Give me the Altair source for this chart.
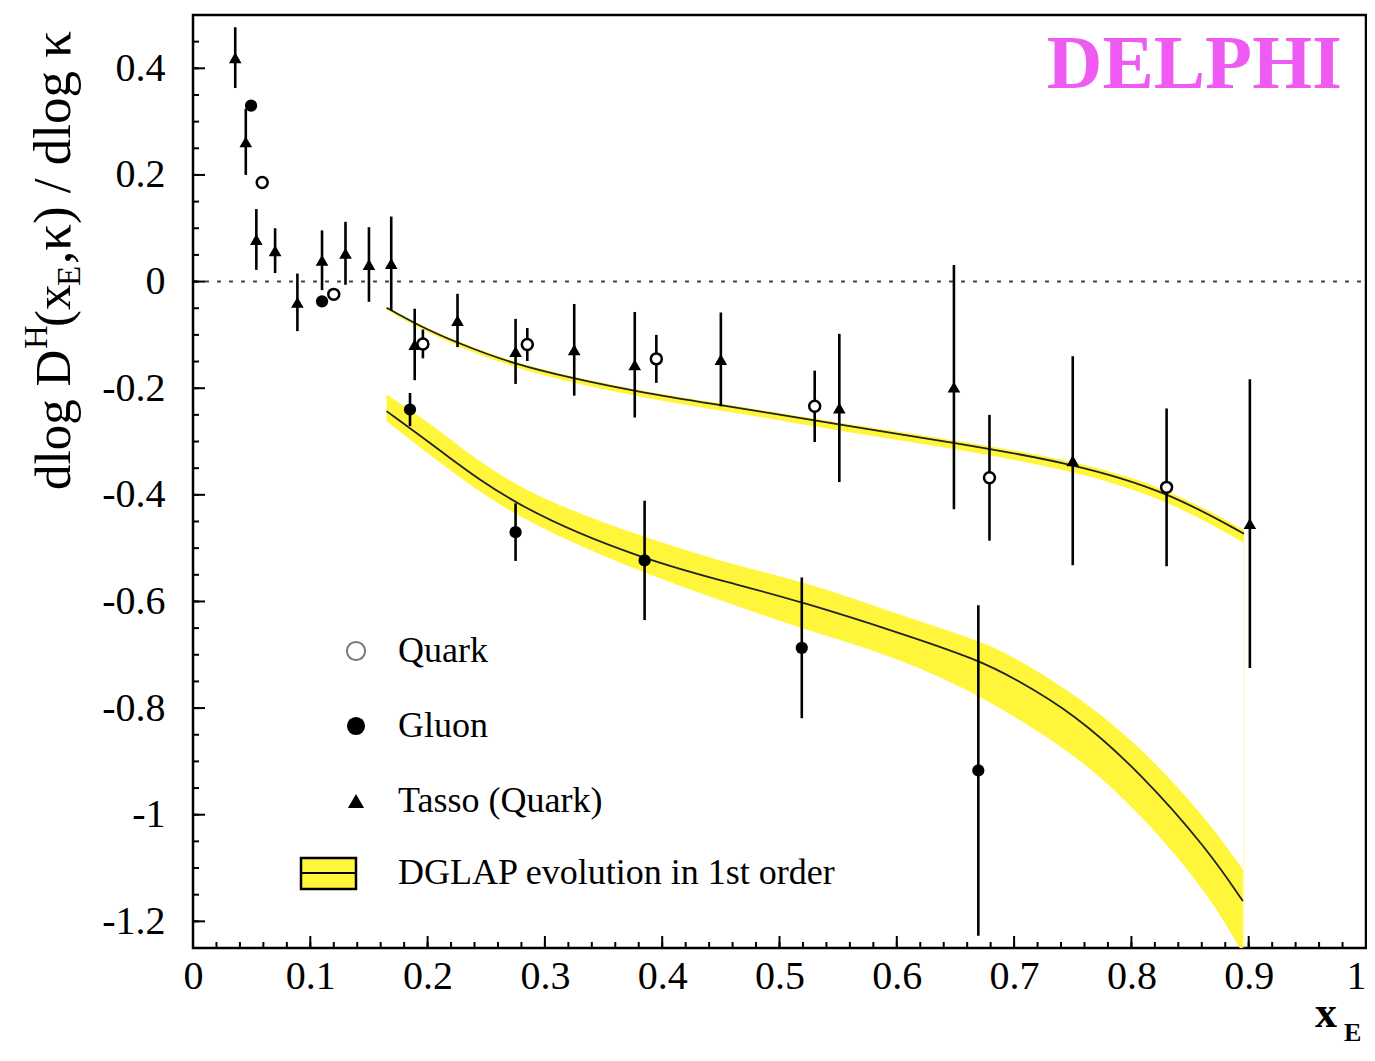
import altair as alt
import pandas as pd

# ---------------- data ----------------
quark_x = [0.059, 0.120, 0.196, 0.285, 0.395, 0.530, 0.679, 0.830]
quark_y = [0.186, -0.024, -0.117, -0.118, -0.145, -0.234, -0.368, -0.386]
quark_err = [0.012, 0.010, 0.027, 0.031, 0.045, 0.067, 0.118, 0.148]

gluon_x = [0.0495, 0.110, 0.185, 0.275, 0.385, 0.519, 0.6695]
gluon_y = [0.330, -0.037, -0.240, -0.470, -0.523, -0.687, -0.917]
gluon_err = [0.006, 0.010, 0.031, 0.054, 0.112, 0.132, 0.310]

tasso_x = [0.036, 0.045, 0.054, 0.070, 0.089, 0.110, 0.130, 0.150, 0.169, 0.189,
           0.2255, 0.275, 0.325, 0.3766, 0.450, 0.551, 0.6487, 0.750, 0.901]
tasso_y = [0.420, 0.262, 0.079, 0.058, -0.039, 0.040, 0.053, 0.032, 0.034, -0.118,
           -0.073, -0.131, -0.128, -0.156, -0.146, -0.237, -0.198, -0.336, -0.454]
tasso_err = [0.057, 0.062, 0.057, 0.042, 0.054, 0.056, 0.059, 0.070, 0.088, 0.067,
             0.050, 0.061, 0.086, 0.099, 0.088, 0.139, 0.229, 0.196, 0.271]

# DGLAP prediction for gluon jets (central line and band)
gband_x = [0.165, 0.208, 0.275, 0.385, 0.467, 0.519, 0.600, 0.670, 0.700, 0.751, 0.808, 0.865, 0.895]
gband_mid = [-0.243, -0.312, -0.424, -0.523, -0.570, -0.601, -0.657, -0.710, -0.744, -0.810, -0.922, -1.065, -1.162]
gband_hi = [-0.212, -0.274, -0.393, -0.480, -0.536, -0.561, -0.623, -0.673, -0.704, -0.772, -0.872, -1.010, -1.103]
gband_lo = [-0.262, -0.336, -0.445, -0.548, -0.611, -0.651, -0.704, -0.776, -0.816, -0.885, -0.997, -1.146, -1.260]

# DGLAP prediction for quark jets (central line and thin band)
qband_x = [0.165, 0.191, 0.225, 0.275, 0.325, 0.377, 0.450, 0.490, 0.551, 0.649, 0.750, 0.830, 0.896]
qband_mid = [-0.049, -0.081, -0.115, -0.156, -0.182, -0.206, -0.232, -0.246, -0.268, -0.302, -0.341, -0.393, -0.473]
qband_hi = [-0.047, -0.079, -0.112, -0.153, -0.179, -0.203, -0.229, -0.243, -0.265, -0.297, -0.335, -0.386, -0.466]
qband_lo = [-0.053, -0.086, -0.121, -0.163, -0.190, -0.215, -0.242, -0.256, -0.280, -0.313, -0.354, -0.408, -0.490]

x_major = [0, 0.1, 0.2, 0.3, 0.4, 0.5, 0.6, 0.7, 0.8, 0.9, 1]
y_major = [0.4, 0.2, 0, -0.2, -0.4, -0.6, -0.8, -1, -1.2]
x_minor = [round(i * 0.02, 2) for i in range(51)]
y_minor = [round(-1.25 + i * 0.05, 2) for i in range(36)]

legend_labels = ["Quark", "Gluon", "Tasso (Quark)", "DGLAP evolution in 1st order"]

# ---------------- tables ----------------
def pts(xs, ys, es):
    return pd.DataFrame({"x": xs, "y": ys,
                         "lo": [a - b for a, b in zip(ys, es)],
                         "hi": [a + b for a, b in zip(ys, es)]})

quark = pts(quark_x, quark_y, quark_err)
gluon = pts(gluon_x, gluon_y, gluon_err)
tasso = pts(tasso_x, tasso_y, tasso_err)
gband = pd.DataFrame({"x": gband_x, "y": gband_mid, "lo": gband_lo, "hi": gband_hi})
qband = pd.DataFrame({"x": qband_x, "y": qband_mid, "lo": qband_lo, "hi": qband_hi})

W, H = 1173, 933
SERIF = "Liberation Serif"
YELLOW = "#FFF53A"

xs = alt.Scale(domain=[0, 1], nice=False, zero=False)
ys = alt.Scale(domain=[-1.25, 0.5], nice=False, zero=False)
xaxis = alt.Axis(values=x_major, title=None, ticks=False, domain=False, grid=False,
                 labelFont=SERIF, labelFontSize=40, labelColor="black", labelPadding=8,
                 labelExpr="toString(datum.value)", labelFlush=False,
                 labelAlign={"condition": {"test": "datum.value === 1", "value": "right"},
                             "value": "center"})
yaxis = alt.Axis(values=y_major, title=None, ticks=False, domain=False, grid=False,
                 labelFont=SERIF, labelFontSize=40, labelColor="black", labelPadding=28,
                 labelExpr="toString(datum.value)", labelFlush=False)


def X(f="x"):
    return alt.X(f, type="quantitative", scale=xs, axis=xaxis)


def Y(f="y"):
    return alt.Y(f, type="quantitative", scale=ys, axis=yaxis)


dummy = pd.DataFrame({"a": [0]})
layers = []

# zero dotted line
layers.append(alt.Chart(pd.DataFrame({"y": [0]})).mark_rule(
    color="#444", strokeWidth=2, strokeDash=[4, 8]).encode(
    y=Y("y"), x=alt.value(0), x2=alt.value(W)))

# bands
layers.append(alt.Chart(gband).mark_area(color=YELLOW, opacity=1, clip=True,
                                         interpolate="basis").encode(
    x=X(), y=Y("lo"), y2="hi"))
layers.append(alt.Chart(qband).mark_area(color=YELLOW, opacity=1, clip=True,
                                         interpolate="basis").encode(
    x=X(), y=Y("lo"), y2="hi"))
# faint closing edge of the band
layers.append(alt.Chart(pd.DataFrame({"x": [0.896], "lo": [-1.25], "hi": [-0.49]})).mark_rule(
    color=YELLOW, strokeWidth=1.5, opacity=0.35).encode(x=X(), y=Y("lo"), y2="hi"))

# central curves
layers.append(alt.Chart(gband).mark_line(color="#222", strokeWidth=1.8,
                                         interpolate="basis", clip=True).encode(x=X(), y=Y()))
layers.append(alt.Chart(qband).mark_line(color="#222", strokeWidth=1.8,
                                         interpolate="basis", clip=True).encode(x=X(), y=Y()))

# error bars
for df in (tasso, quark, gluon):
    layers.append(alt.Chart(df).mark_rule(color="black", strokeWidth=2.6).encode(
        x=X(), y=Y("lo"), y2="hi"))

# markers
layers.append(alt.Chart(tasso).mark_point(shape="triangle-up", filled=True, color="black",
                                          size=160, opacity=1).encode(x=X(), y=Y()))
layers.append(alt.Chart(quark).mark_point(shape="circle", filled=True, fill="white",
                                          stroke="black", strokeWidth=2.5, size=120,
                                          opacity=1).encode(x=X(), y=Y()))
layers.append(alt.Chart(gluon).mark_point(shape="circle", filled=True, color="black",
                                          size=150, opacity=1).encode(x=X(), y=Y()))

# inward ticks
xt = pd.DataFrame({"x": x_minor})
yt = pd.DataFrame({"y": y_minor})
layers.append(alt.Chart(xt).mark_rule(color="black", strokeWidth=2).encode(
    x=X(), y=alt.value(H), y2=alt.value(H - 6)))
layers.append(alt.Chart(pd.DataFrame({"x": x_major})).mark_rule(color="black", strokeWidth=2).encode(
    x=X(), y=alt.value(H), y2=alt.value(H - 12)))
layers.append(alt.Chart(yt).mark_rule(color="black", strokeWidth=2).encode(
    y=Y(), x=alt.value(0), x2=alt.value(6)))
layers.append(alt.Chart(pd.DataFrame({"y": y_major})).mark_rule(color="black", strokeWidth=2).encode(
    y=Y(), x=alt.value(0), x2=alt.value(12)))

# legend
rows = [636, 711, 786, 858]
layers.append(alt.Chart(dummy).mark_point(shape="circle", filled=True, fill="white",
                                          stroke="#777", strokeWidth=2, size=330, opacity=1).encode(
    x=alt.value(163), y=alt.value(rows[0])))
layers.append(alt.Chart(dummy).mark_point(shape="circle", filled=True, color="black",
                                          size=330, opacity=1).encode(
    x=alt.value(163), y=alt.value(rows[1])))
layers.append(alt.Chart(dummy).mark_point(shape="triangle-up", filled=True, color="black",
                                          size=260, opacity=1).encode(
    x=alt.value(163), y=alt.value(rows[2])))
layers.append(alt.Chart(dummy).mark_rect(fill=YELLOW, stroke="black", strokeWidth=2.5).encode(
    x=alt.value(108), x2=alt.value(163), y=alt.value(rows[3] - 15), y2=alt.value(rows[3] + 16)))
layers.append(alt.Chart(dummy).mark_rule(color="black", strokeWidth=2).encode(
    x=alt.value(108), x2=alt.value(163), y=alt.value(rows[3]), y2=alt.value(rows[3])))
for lab, r in zip(legend_labels, rows):
    layers.append(alt.Chart(dummy).mark_text(text=lab, font=SERIF, fontSize=36, color="black",
                                             align="left", baseline="middle").encode(
        x=alt.value(205), y=alt.value(r)))

# DELPHI tag
layers.append(alt.Chart(dummy).mark_text(text="DELPHI", font=SERIF, fontSize=77, fontWeight="bold",
                                         color="#EE5AF2", align="right",
                                         baseline="alphabetic").encode(
    x=alt.value(1149), y=alt.value(73)))

# y title pieces (rotated)
ytitle = [("dlog D", 51, -123, 475),
          ("H", 33, -146, 334),
          ("(x", 51, -123, 312),
          ("E", 33, -113, 271),
          (",κ) / dlog κ", 53, -123, 249)]
for txt, fs, px, py in ytitle:
    layers.append(alt.Chart(dummy).mark_text(text=txt, font=SERIF, fontSize=fs, color="black",
                                             angle=270, align="left", baseline="alphabetic").encode(
        x=alt.value(px), y=alt.value(py)))

# x title
layers.append(alt.Chart(dummy).mark_text(text="x", font=SERIF, fontSize=44, fontWeight="bold",
                                         color="black", align="left", baseline="alphabetic").encode(
    x=alt.value(1122), y=alt.value(1012)))
layers.append(alt.Chart(dummy).mark_text(text="E", font=SERIF, fontSize=26, fontWeight="bold",
                                         color="black", align="left", baseline="alphabetic").encode(
    x=alt.value(1151), y=alt.value(1026)))

chart = alt.layer(*layers).properties(
    width=W, height=H,
    padding={"left": 185, "top": 7, "right": 1, "bottom": 105},
    autosize=alt.AutoSizeParams(type="none"),
).configure_view(stroke="black", strokeWidth=2.5)

chart.save("out.html", embed_options={"renderer": "svg", "actions": False})
